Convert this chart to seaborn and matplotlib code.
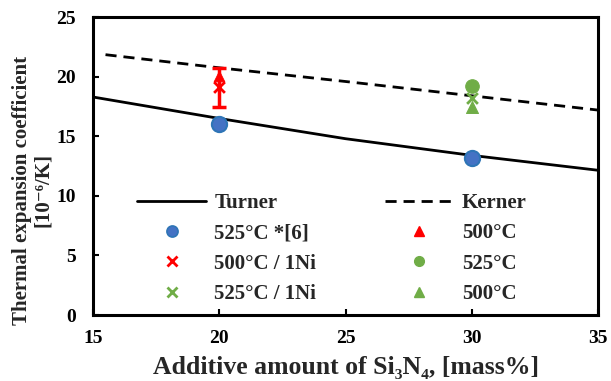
import numpy as np
import pandas as pd
import matplotlib
matplotlib.use("Agg")
import matplotlib.pyplot as plt
from matplotlib.lines import Line2D
import seaborn as sns

# --- data --------------------------------------------------------------------
turner_x = [15, 20, 25, 30, 35]
turner_y = [18.3, 16.5, 14.8, 13.4, 12.15]
kerner_x = [15.5, 20, 25, 30, 35]
kerner_y = [21.85, 20.75, 19.6, 18.4, 17.2]

ref_x = [20, 30]            # 525C *[6]
ref_y = [16.0, 13.2]
red_tri_x = [20]            # 500C
red_tri_y = [20.1]
red_x_x = [20]              # 500C / 1Ni
red_x_y = [19.1]
red_x_err = [1.6]
green_circ_x = [30]         # 525C
green_circ_y = [19.2]
green_x_x = [30]            # 525C / 1Ni
green_x_y = [18.2]
green_tri_x = [30]          # 500C
green_tri_y = [17.5]

BLUE, BLUE_EDGE = "#4472C4", "#2E75B6"
RED = "#FF0000"
GREEN = "#70AD47"

sns.set_theme(style="ticks")
plt.rcParams["font.family"] = ["Liberation Serif", "DejaVu Serif"]
plt.rcParams["font.weight"] = "bold"

fig = plt.figure(figsize=(6.11, 3.81), dpi=100)
ax = fig.add_axes([0.152, 0.173, 0.827, 0.782])

sns.lineplot(x=turner_x, y=turner_y, color="black", lw=2, ax=ax)
sns.lineplot(x=kerner_x, y=kerner_y, color="black", lw=2, ax=ax)
ax.lines[-1].set_dashes([4, 2.5])

ax.errorbar(red_x_x, red_x_y, yerr=red_x_err, fmt="none", ecolor=RED,
            elinewidth=2.5, capsize=5, capthick=2.5, zorder=3)
sns.scatterplot(x=ref_x, y=ref_y, marker="o", s=120, color=BLUE,
                edgecolor=BLUE_EDGE, linewidth=1.5, ax=ax, zorder=4)
sns.scatterplot(x=red_x_x, y=red_x_y, marker="x", s=60, color=RED,
                linewidth=2, ax=ax, zorder=4)
sns.scatterplot(x=red_tri_x, y=red_tri_y, marker="^", s=60, color=RED,
                edgecolor=RED, ax=ax, zorder=4)
sns.scatterplot(x=green_circ_x, y=green_circ_y, marker="o", s=95, color=GREEN,
                edgecolor=GREEN, ax=ax, zorder=4)
sns.scatterplot(x=green_x_x, y=green_x_y, marker="x", s=60, color=GREEN,
                linewidth=2, ax=ax, zorder=4)
sns.scatterplot(x=green_tri_x, y=green_tri_y, marker="^", s=75, color=GREEN,
                edgecolor=GREEN, ax=ax, zorder=4)

ax.set_xlim(15, 35)
ax.set_ylim(0, 25)
ax.set_xticks([15, 20, 25, 30, 35])
ax.set_yticks([0, 5, 10, 15, 20, 25])
ax.tick_params(direction="in", length=4, width=1.5, labelsize=14,
               colors="black")
ax.tick_params(axis="x", pad=11)
ax.tick_params(axis="y", pad=12)
for lab in ax.get_xticklabels() + ax.get_yticklabels():
    lab.set_fontweight("bold")
for sp in ax.spines.values():
    sp.set_linewidth(2.2)
    sp.set_color("black")

ax.set_xlabel("Additive amount of Si₃N₄, [mass%]", fontsize=18.5,
              fontweight="bold", labelpad=6)
ax.set_ylabel("Thermal expansion coefficient\n[10⁻⁶/K]", fontsize=15,
              fontweight="bold", linespacing=1.05)
ax.yaxis.set_label_coords(-0.079, 0.42)

handles = [
    Line2D([], [], color="black", lw=2),
    Line2D([], [], ls="none", marker="o", ms=8, color=BLUE, mec=BLUE_EDGE, mew=1.2),
    Line2D([], [], ls="none", marker="x", ms=7, color=RED, mew=2),
    Line2D([], [], ls="none", marker="x", ms=7, color=GREEN, mew=2),
    Line2D([], [], color="black", lw=2, dashes=[4, 2.5]),
    Line2D([], [], ls="none", marker="^", ms=7, color=RED),
    Line2D([], [], ls="none", marker="o", ms=7, color=GREEN),
    Line2D([], [], ls="none", marker="^", ms=7, color=GREEN),
]
labels = ["Turner", "525°C *[6]", "500°C / 1Ni", "525°C / 1Ni",
          "Kerner", "500°C", "525°C", "500°C"]
ax.legend(handles, labels, ncol=2, frameon=False, loc="upper left",
          bbox_to_anchor=(0.067, 0.445), prop={"size": 15, "weight": "bold"},
          handlelength=3.3, handletextpad=0.4, columnspacing=3.3,
          labelspacing=0.5, borderpad=0)

fig.savefig("out.png", dpi=100)
